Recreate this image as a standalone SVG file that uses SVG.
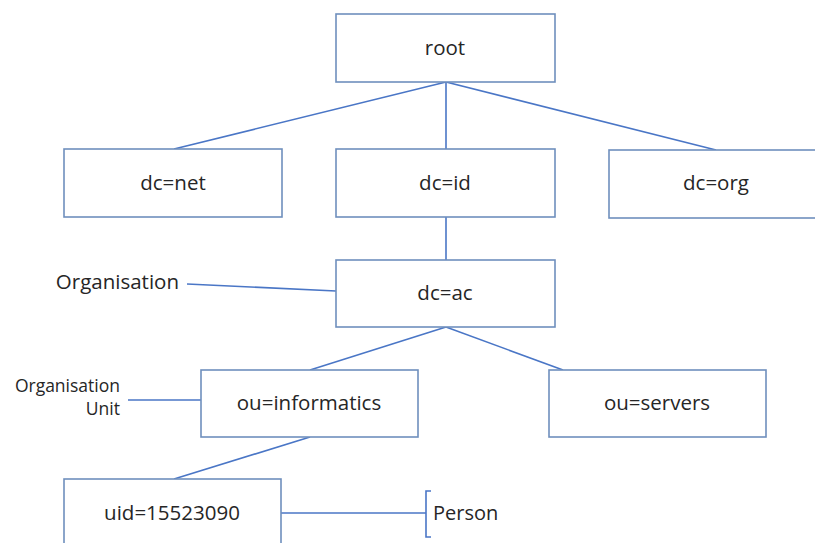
<svg xmlns="http://www.w3.org/2000/svg" width="815" height="543" viewBox="0 0 815 543">
<style>
.box{fill:#ffffff;stroke:#6f8fbd;stroke-width:1.6}
.lbl{font-family:"Open Sans","Liberation Sans",sans-serif;font-size:20.5px;fill:#262626;text-anchor:middle}
.side{font-family:"Open Sans","Liberation Sans",sans-serif;fill:#262626;text-anchor:end}
.con{stroke:#4a76c6;stroke-width:1.6;fill:none}
</style>
<rect width="815" height="543" fill="#ffffff"/>
<g id="connectors">
<line class="con" x1="446" y1="82" x2="174" y2="149"/>
<line class="con" x1="446" y1="82" x2="446" y2="149"/>
<line class="con" x1="446" y1="82" x2="716" y2="150"/>
<line class="con" x1="446" y1="217" x2="446" y2="260"/>
<line class="con" x1="446" y1="327" x2="310" y2="370"/>
<line class="con" x1="446" y1="327" x2="563" y2="370"/>
<line class="con" x1="310" y1="437" x2="174" y2="479"/>
<line class="con" x1="187" y1="284" x2="336" y2="291"/>
<line class="con" x1="128" y1="400" x2="201" y2="400"/>
<line class="con" x1="281" y1="513" x2="426" y2="513"/>
<path class="con" d="M431,491 H426 V537 H431"/>
</g>
<g id="root"><rect class="box" x="336" y="14" width="219" height="68"/><text class="lbl" x="445" y="55">root</text></g>
<g id="dc-net"><rect class="box" x="64" y="149" width="218" height="68"/><text class="lbl" x="173" y="190">dc=net</text></g>
<g id="dc-id"><rect class="box" x="336" y="149" width="219" height="68"/><text class="lbl" x="445" y="190">dc=id</text></g>
<g id="dc-org"><rect class="box" x="609" y="150" width="218" height="68"/><text class="lbl" x="716" y="190">dc=org</text></g>
<g id="dc-ac"><rect class="box" x="336" y="260" width="219" height="67"/><text class="lbl" x="445" y="300">dc=ac</text></g>
<g id="ou-informatics"><rect class="box" x="201" y="370" width="217" height="67"/><text class="lbl" x="309" y="410">ou=informatics</text></g>
<g id="ou-servers"><rect class="box" x="549" y="370" width="217" height="67"/><text class="lbl" x="657" y="410">ou=servers</text></g>
<g id="uid"><rect class="box" x="64" y="479" width="217" height="72"/><text class="lbl" x="172" y="520">uid=15523090</text></g>
<g id="organisation-label"><text class="side" x="179" y="289" font-size="20.5">Organisation</text></g>
<g id="ou-label"><text class="side" x="120" y="392" font-size="17.5">Organisation</text><text class="side" x="120" y="415" font-size="17.5">Unit</text></g>
<g id="person-label"><text x="433" y="520" font-family="Open Sans, Liberation Sans, sans-serif" font-size="20" fill="#262626">Person</text></g>
</svg>
